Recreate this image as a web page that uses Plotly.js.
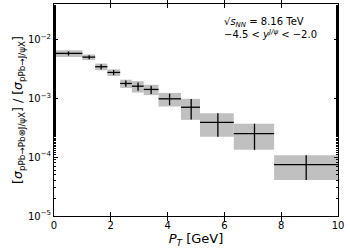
<!DOCTYPE html>
<html>
<head>
<meta charset="utf-8">
<script src="https://cdn.plot.ly/plotly-3.0.1.min.js"></script>
<style>html,body{margin:0;padding:0;background:#fff;}#chart{width:350px;height:249px;}</style>
</head>
<body>
<div id="chart"></div>
<script>
// pT bin edges (GeV)
var binLow  = [0.0, 1.0, 1.45, 1.88, 2.33, 2.74, 3.16, 3.68, 4.47, 5.14, 6.33, 7.75];
var binHigh = [1.0, 1.45, 1.88, 2.33, 2.74, 3.16, 3.68, 4.47, 5.14, 6.33, 7.75, 10.0];
// mean pT per bin
var ptMean = [0.51, 1.24, 1.66, 2.10, 2.53, 2.96, 3.42, 4.07, 4.83, 5.77, 7.06, 8.88];
// ratio values
var ratio = [5.77e-3, 4.99e-3, 3.43e-3, 2.74e-3, 1.78e-3, 1.60e-3, 1.41e-3, 9.77e-4, 7.03e-4, 3.90e-4, 2.51e-4, 7.43e-5];
// relative statistical and systematic uncertainties
var statRel = [0.08, 0.08, 0.10, 0.10, 0.12, 0.16, 0.16, 0.22, 0.38, 0.43, 0.47, 0.45];
var systRel = [0.13, 0.11, 0.13, 0.13, 0.16, 0.22, 0.20, 0.26, 0.39, 0.43, 0.47, 0.45];
var yTickVals = [1e-5, 1e-4, 1e-3, 1e-2];
var yTickText = ['10<sup>−5</sup>', '10<sup>−4</sup>', '10<sup>−3</sup>', '10<sup>−2</sup>'];

var shapes = [];
for (var i = 0; i < ratio.length; i++) {
  shapes.push({
    type: 'rect', xref: 'x', yref: 'y', layer: 'below',
    x0: binLow[i], x1: binHigh[i],
    y0: ratio[i] * (1 - systRel[i]), y1: ratio[i] * (1 + systRel[i]),
    fillcolor: '#c0c0c0', line: {width: 0}
  });
}

var trace = {
  x: ptMean, y: ratio, type: 'scatter', mode: 'markers',
  marker: {size: 1, color: 'black'},
  error_x: {type: 'data', symmetric: false,
    array: ptMean.map(function(v, i){ return binHigh[i] - v; }),
    arrayminus: ptMean.map(function(v, i){ return v - binLow[i]; }),
    color: 'black', thickness: 1.3, width: 0},
  error_y: {type: 'data', symmetric: true,
    array: ratio.map(function(v, i){ return v * statRel[i]; }),
    color: 'black', thickness: 1.3, width: 0},
  showlegend: false, hoverinfo: 'skip'
};
// invisible trace to carry the mirrored right-hand log axis
var mirrorTrace = {
  x: ptMean, y: ratio, type: 'scatter', mode: 'markers', yaxis: 'y2',
  marker: {size: 1, opacity: 0}, showlegend: false, hoverinfo: 'skip'
};

var font = {family: 'DejaVu Sans, sans-serif', size: 10, color: 'black'};
var layout = {
  width: 350, height: 249,
  margin: {l: 54, r: 12, t: 4, b: 33},
  paper_bgcolor: 'white', plot_bgcolor: 'white',
  font: font,
  showlegend: false,
  shapes: shapes,
  xaxis: {
    range: [0, 10], dtick: 2, tick0: 0,
    ticks: 'inside', ticklen: 4, tickwidth: 1, tickcolor: 'black',
    showline: true, linecolor: 'black', linewidth: 1, mirror: 'allticks',
    showgrid: false, zeroline: false,
    tickfont: {family: 'DejaVu Sans, sans-serif', size: 10},
    title: {text: '<i>P</i><sub><i>T</i></sub> [GeV]', font: {family: 'DejaVu Sans, sans-serif', size: 13}, standoff: 2}
  },
  yaxis: {
    type: 'log', range: [-5, -1.4],
    tickvals: yTickVals, ticktext: yTickText,
    ticks: 'inside', ticklen: 4, tickwidth: 1, tickcolor: 'black',
    minor: {ticks: 'inside', ticklen: 2, tickcolor: 'black', showgrid: false},
    showline: true, linecolor: 'black', linewidth: 1, mirror: true,
    showgrid: false, zeroline: false,
    tickfont: {family: 'DejaVu Sans, sans-serif', size: 10},
    title: {text: '[<i>σ</i><sub>pPb→Pb⊗J/ψX</sub>] / [<i>σ</i><sub>pPb→J/ψX</sub>]', font: {family: 'DejaVu Sans, sans-serif', size: 12.5}, standoff: 2}
  },
  yaxis2: {
    type: 'log', range: [-5, -1.4], overlaying: 'y', side: 'right',
    tickvals: yTickVals, showticklabels: false,
    ticks: 'inside', ticklen: 4, tickwidth: 1, tickcolor: 'black',
    minor: {ticks: 'inside', ticklen: 2, tickcolor: 'black', showgrid: false},
    showline: false, showgrid: false, zeroline: false
  },
  annotations: [
    {xref: 'paper', yref: 'paper', x: 0.59, y: 0.915, xanchor: 'left', yanchor: 'middle', showarrow: false,
     text: '√<i>s</i><sub><i>NN</i></sub> = 8.16 TeV', font: {family: 'DejaVu Sans, sans-serif', size: 10}},
    {xref: 'paper', yref: 'paper', x: 0.59, y: 0.86, xanchor: 'left', yanchor: 'middle', showarrow: false,
     text: '−4.5 < <i>y</i><sup><i>J/ψ</i></sup> < −2.0', font: {family: 'DejaVu Sans, sans-serif', size: 10}}
  ]
};

Plotly.newPlot('chart', [trace, mirrorTrace], layout, {displayModeBar: false, staticPlot: true});
</script>
</body>
</html>
